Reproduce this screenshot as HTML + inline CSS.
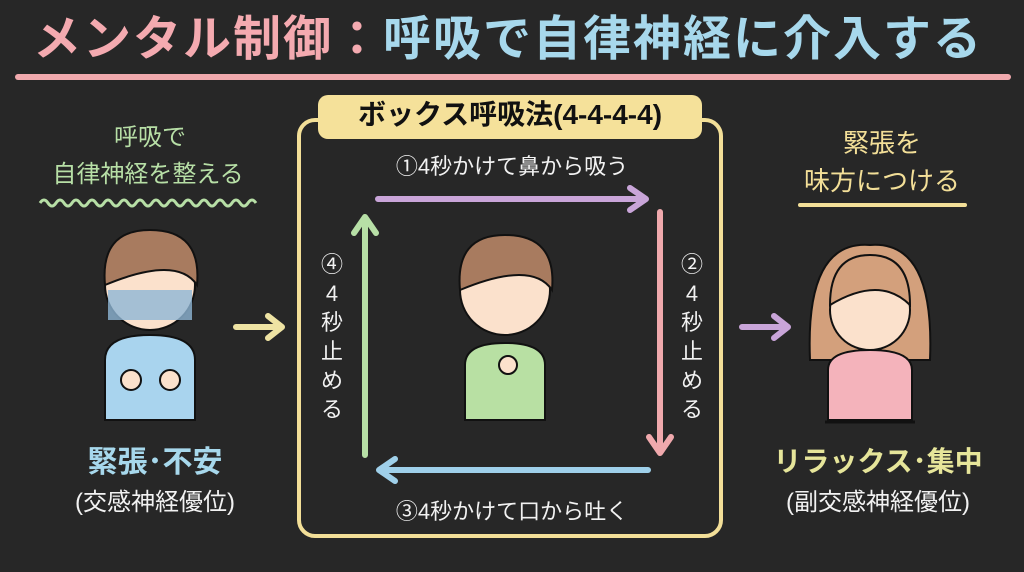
<!DOCTYPE html>
<html><head><meta charset="utf-8"><style>
body{margin:0;width:1024px;height:572px;overflow:hidden;background:#262626;font-family:"Liberation Sans","Noto Sans CJK JP",sans-serif;}
.t{position:absolute;white-space:nowrap;text-align:center;transform:translateX(-50%);line-height:1;}
</style></head><body>
<svg width="1024" height="572" style="position:absolute;left:0;top:0">
<rect width="1024" height="572" fill="#272727"/>
<line x1="18" y1="77" x2="1008" y2="77" stroke="#f0a9ad" stroke-width="6" stroke-linecap="round"/>
<rect x="299" y="120" width="422" height="416" rx="16" fill="none" stroke="#f3df98" stroke-width="4"/>
<rect x="318" y="95" width="384" height="44" rx="10" fill="#f5e19a"/>
<path d="M40 203 q4 -6 8 0 t8 0 t8 0 t8 0 t8 0 t8 0 t8 0 t8 0 t8 0 t8 0 t8 0 t8 0 t8 0 t8 0 t8 0 t8 0 t8 0 t8 0 t8 0 t8 0 t8 0 t8 0 t8 0 t8 0 t8 0 t8 0 t8 0" fill="none" stroke="#b7dfa6" stroke-width="3"/>
<line x1="800" y1="205" x2="965" y2="205" stroke="#f3df98" stroke-width="4" stroke-linecap="round"/>
<g stroke-width="6" fill="none" stroke-linecap="round" stroke-linejoin="round">
<path d="M378 199 H645 M630 188 L646 199 L630 210" stroke="#c9a5d9"/>
<path d="M660 212 V452 M649 437 L660 453 L671 437" stroke="#f0a9ad"/>
<path d="M648 470 H380 M395 459 L379 470 L395 481" stroke="#9fd0ea"/>
<path d="M365 455 V218 M354 233 L365 217 L376 233" stroke="#b7dfa6"/>
<path d="M236 327 H280 M268 316 L282 327 L268 338" stroke="#eee3a3"/>
<path d="M742 327 H786 M774 316 L788 327 L774 338" stroke="#c9a5d9"/>
</g>
<g stroke="#111" stroke-width="2">
<path d="M105 420 V360 q0 -25 45 -25 q45 0 45 25 V420 Z" fill="#a9d4ee"/>
<circle cx="150" cy="285" r="45" fill="#fbe1cc"/>
<path d="M105 285 q-5 -55 45 -55 q52 0 47 55 q-20 -30 -92 0Z" fill="#a87b5f"/>
<rect x="108" y="290" width="84" height="30" fill="#8fb7d6" stroke="none" opacity=".8"/>
<circle cx="131" cy="380" r="10" fill="#fbe1cc"/><circle cx="170" cy="380" r="10" fill="#fbe1cc"/>
</g>
<g stroke="#111" stroke-width="2">
<path d="M465 420 V365 q0 -22 40 -22 q40 0 40 22 V420 Z" fill="#b8e0a3"/>
<circle cx="505" cy="290" r="45" fill="#fbe1cc"/>
<path d="M460 290 q-5 -55 45 -55 q52 0 47 55 q-20 -30 -92 0Z" fill="#a87b5f"/>
<circle cx="508" cy="365" r="9" fill="#fbe1cc"/>
</g>
<g stroke="#111" stroke-width="2">
<path d="M810 360 q-5 -120 60 -115 q65 -5 60 115Z" fill="#d3a07c"/>
<path d="M828 420 V370 q0 -20 42 -20 q42 0 42 20 V420 Z" fill="#f4b3bb"/>
<circle cx="870" cy="310" r="40" fill="#fbe1cc"/>
<path d="M830 305 q0 -50 40 -50 q40 0 40 50 q-30 -30 -80 0Z" fill="#d3a07c"/>
<line x1="825" y1="422" x2="915" y2="422" stroke-width="3"/>
</g>
</svg>
<div class="t" style="left:508px;top:16px;font-size:48px;letter-spacing:2px;font-weight:bold;"><span style="color:#f4aab0">メンタル制御：</span><span style="color:#a7d8ec">呼吸で自律神経に介入する</span></div>
<div class="t" style="left:510px;top:101px;font-size:28px;font-weight:bold;color:#111">ボックス呼吸法(4-4-4-4)</div>
<div class="t" style="left:512px;top:156px;font-size:22px;color:#f2f2f2">①4秒かけて鼻から吸う</div>
<div class="t" style="left:512px;top:501px;font-size:22px;color:#f2f2f2">③4秒かけて口から吐く</div>
<div class="t" style="left:692px;top:250px;font-size:22px;color:#f2f2f2;line-height:29px">②<br>4<br>秒<br>止<br>め<br>る</div>
<div class="t" style="left:332px;top:250px;font-size:22px;color:#f2f2f2;line-height:29px">④<br>4<br>秒<br>止<br>め<br>る</div>
<div class="t" style="left:150px;top:126px;font-size:24px;color:#b7dfa6">呼吸で</div>
<div class="t" style="left:148px;top:163px;font-size:24px;color:#b7dfa6">自律神経を整える</div>
<div class="t" style="left:882px;top:130px;font-size:26px;color:#f3df98">緊張を</div>
<div class="t" style="left:882px;top:168px;font-size:26px;color:#f3df98">味方につける</div>
<div class="t" style="left:155px;top:448px;font-size:30px;font-weight:bold;color:#a7d8ec">緊張･不安</div>
<div class="t" style="left:155px;top:491px;font-size:24px;color:#f2f2f2">(交感神経優位)</div>
<div class="t" style="left:878px;top:448px;font-size:28px;font-weight:bold;color:#e6e59a">リラックス･集中</div>
<div class="t" style="left:878px;top:491px;font-size:24px;color:#f2f2f2">(副交感神経優位)</div>
</body></html>
